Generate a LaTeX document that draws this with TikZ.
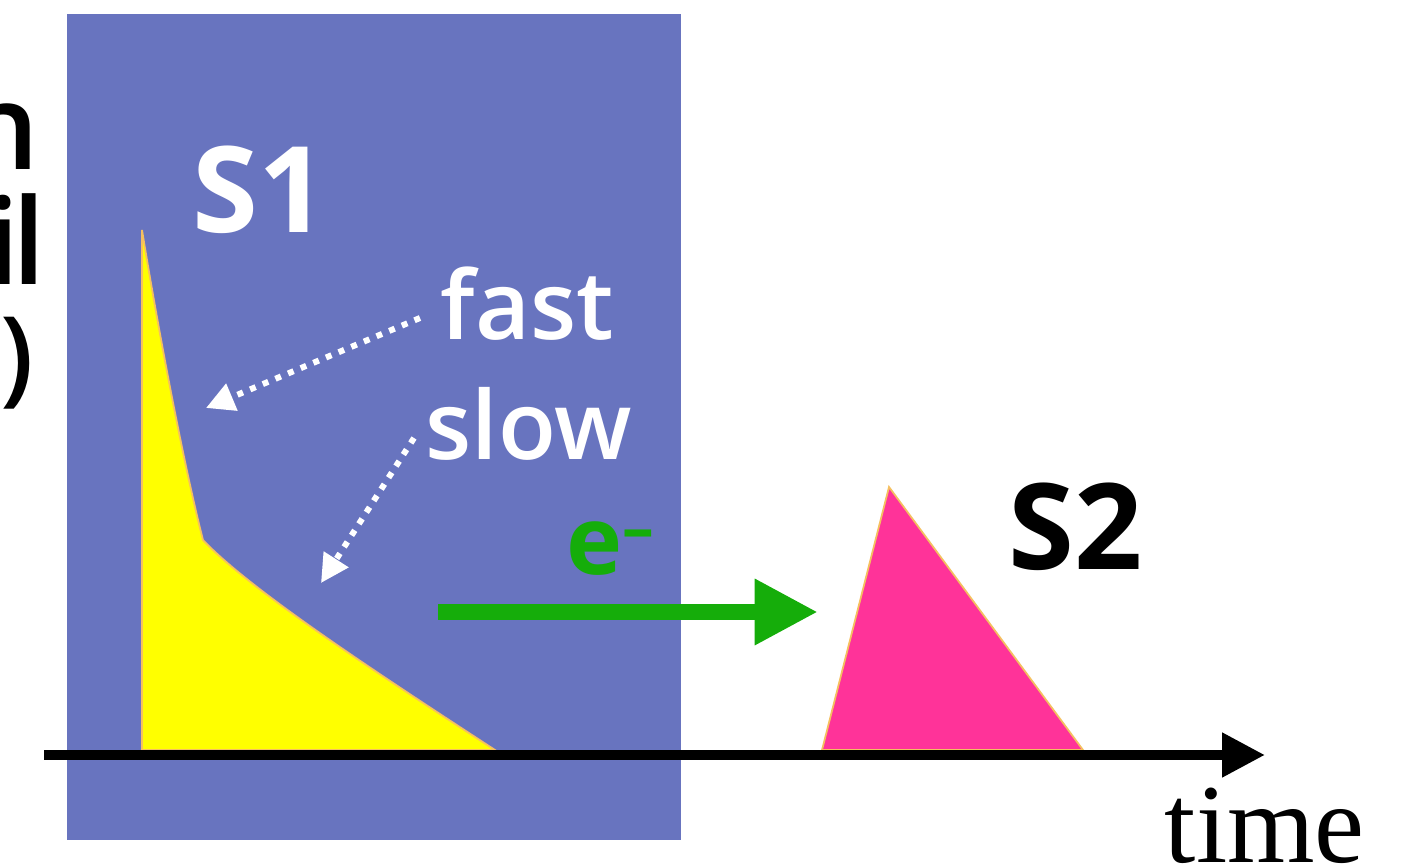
\documentclass[tikz,border=0pt]{standalone}
\usepackage{fontspec}
\setmainfont{Open Sans}
\newfontfamily\semifont{Open Sans Semibold}
\newfontfamily\timesfont{Liberation Serif}
\usetikzlibrary{arrows.meta}
\definecolor{panelblue}{HTML}{6874BF}
\definecolor{sigyellow}{HTML}{FFFF00}
\definecolor{sigpink}{HTML}{FF3399}
\definecolor{edgeorange}{HTML}{F5C060}
\definecolor{egreen}{HTML}{15AD0A}
\tikzset{
  bigbold/.style={inner sep=0pt, font=\fontsize{34}{40}\selectfont\bfseries},
  leftlabel/.style={inner sep=0pt, font=\semifont\fontsize{34}{40}\selectfont},
  whitelabel/.style={inner sep=0pt, text=white, font=\semifont\fontsize{27}{32}\selectfont},
  dotarrow/.style={draw=white, line width=1.7pt, dash pattern=on 1.7pt off 2.2pt, -{Triangle[width=8pt,length=8pt]}},
  pulse/.style={draw=edgeorange, line width=0.5pt},
}
\begin{document}
\begin{tikzpicture}[x=0.01cm, y=-0.01cm]
\useasboundingbox (0,0) rectangle (1404,868);
% panel
\fill[panelblue] (67,14) rectangle (681,840);
% left clipped text
\node[leftlabel, anchor=base east] (tn) at (40,170) {n};
\node[leftlabel, anchor=base east] (til) at (46,285) {i\kern-2.3pt l};
\node[inner sep=0pt, font=\semifont\fontsize{30}{34}\selectfont, anchor=base east] (tpar) at (35,393) {)};
% S1 pulse
\path[pulse, fill=sigyellow] (142,750) -- (142,230) .. controls (160,340) and (185,470) .. (203,540) .. controls (250,590) and (380,675) .. (495,750) -- cycle;
% S2 pulse
\path[pulse, fill=sigpink] (822,750) -- (889,487) -- (1083,750) -- cycle;
% labels
\node[bigbold, text=white, anchor=base west] (s1) at (192,233) {S1};
\node[bigbold, anchor=base west] (s2) at (1008,570) {S2};
\node[whitelabel, anchor=base west] (fast) at (440,340) {fast};
\node[whitelabel, anchor=base west] (slow) at (425,460) {slow};
\node[inner sep=0pt, text=egreen, anchor=base west, font=\fontsize{27}{32}\selectfont\bfseries] (elec) at (566,575) {e\raisebox{7pt}{\fontsize{18}{18}\selectfont –}};
% dotted arrows
\coordinate (faststart) at (420,318);
\coordinate (fasttip) at (206,408);
\coordinate (slowstart) at (414,438);
\coordinate (slowtip) at (321,583);
\draw[dotarrow] (faststart) -- (fasttip);
\draw[dotarrow] (slowstart) -- (slowtip);
% green arrow
\coordinate (gstart) at (438,612);
\coordinate (gtip) at (818,612);
\draw[egreen, line width=4.55pt, -{Triangle[width=17.6pt,length=18pt]}] (gstart) -- (gtip);
% time axis
\coordinate (axstart) at (44,755);
\coordinate (axtip) at (1265,755);
\draw[black, line width=2.85pt, -{Triangle[width=12pt,length=12.2pt]}] (axstart) -- (axtip);
\node[inner sep=0pt, anchor=base west, font=\timesfont\fontsize{32}{38}\selectfont] (time) at (1164,862) {time};
\end{tikzpicture}
\end{document}
